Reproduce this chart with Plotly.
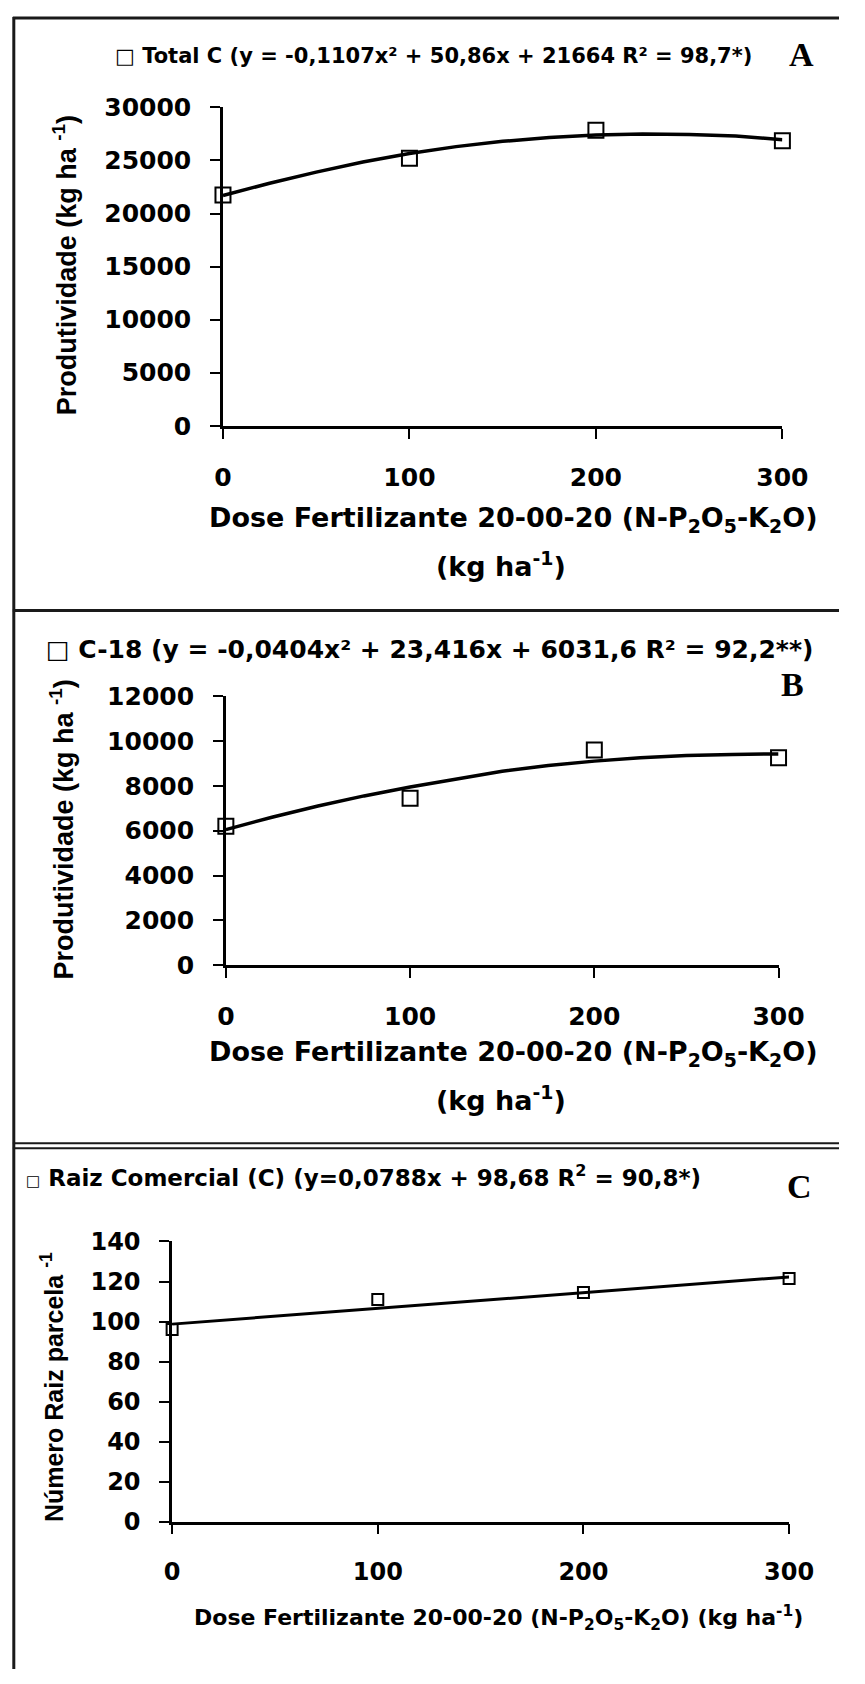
import plotly.graph_objects as go

W, H = 865, 1684

# ---------------- data ----------------
dose = [0, 100, 200, 300]
total_c = [21750, 25200, 27850, 26850]
c18 = [6200, 7450, 9600, 9250]
raiz = [96, 111, 114.5, 121.5]

dose_fit = [0, 25, 50, 75, 100, 125, 150, 175, 200, 225, 250, 275, 300]
total_c_fit = [21700, 22850, 23900, 24850, 25650, 26300, 26800, 27150, 27400, 27500, 27450, 27300, 26950]
c18_fit = [6050, 6600, 7100, 7550, 7950, 8300, 8650, 8900, 9100, 9250, 9350, 9400, 9420]
raiz_fit_x = [0, 300]
raiz_fit = [98.7, 122.3]

x_ticks = [0, 100, 200, 300]
x_ticktext = ["0", "100", "200", "300"]
yA_ticks = [0, 5000, 10000, 15000, 20000, 25000, 30000]
yA_ticktext = ["0", "5000", "10000", "15000", "20000", "25000", "30000"]
yB_ticks = [0, 2000, 4000, 6000, 8000, 10000, 12000]
yB_ticktext = ["0", "2000", "4000", "6000", "8000", "10000", "12000"]
yC_ticks = [0, 20, 40, 60, 80, 100, 120, 140]
yC_ticktext = ["0", "20", "40", "60", "80", "100", "120", "140"]

title_A = "□ Total C (y = -0,1107x² + 50,86x + 21664 R² = 98,7*)"
title_B = "□ C-18 (y = -0,0404x² + 23,416x + 6031,6 R² = 92,2**)"
title_C = "<span style='font-size:15px'>□</span> Raiz Comercial (C) (y=0,0788x + 98,68 R<sup>2</sup> = 90,8*)"
ytitle_AB = "Produtividade (kg ha <sup>-1</sup>)"
ytitle_C = "Número Raiz parcela <sup>-1</sup>"
xtitle_1 = "Dose Fertilizante 20-00-20 (N-P<sub>2</sub>O<sub>5</sub>-K<sub>2</sub>O)"
xtitle_2 = "(kg ha<sup>-1</sup>)"
xtitle_C = "Dose Fertilizante 20-00-20 (N-P<sub>2</sub>O<sub>5</sub>-K<sub>2</sub>O) (kg ha<sup>-1</sup>)"


def fx(x):
    return x / W


def fy(y):
    return 1 - y / H


BOLD = "DejaVu Sans"

fig = go.Figure()

panels = [
    ("x", "y", total_c, dose_fit, total_c_fit, 15, 3.5),
    ("x2", "y2", c18, dose_fit, c18_fit, 15, 3.5),
    ("x3", "y3", raiz, raiz_fit_x, raiz_fit, 11, 3),
]
for xa, ya, obs, fxv, fyv, msize, lw in panels:
    fig.add_trace(go.Scatter(x=fxv, y=fyv, mode="lines", xaxis=xa, yaxis=ya,
                             line=dict(color="black", width=lw), cliponaxis=False,
                             showlegend=False, hoverinfo="skip"))
    fig.add_trace(go.Scatter(x=dose, y=obs, mode="markers", xaxis=xa, yaxis=ya,
                             marker=dict(symbol="square-open", size=msize, color="black",
                                         line=dict(width=2, color="black")),
                             cliponaxis=False, showlegend=False))


def axis(domain, rng, tickvals, ticktext, size, standoff, anchor):
    return dict(domain=domain, range=rng, tickvals=tickvals, ticktext=ticktext,
                ticks="outside", ticklen=10, tickwidth=2, tickcolor="black",
                showline=True, linewidth=2.5, linecolor="black", showgrid=False,
                zeroline=False, anchor=anchor, fixedrange=True,
                tickfont=dict(family=BOLD, size=size, color="black", weight="bold"),
                ticklabelstandoff=standoff)


boxA = (223, 806, 95, 419)
boxB = (226, 802, 694, 968)
boxC = (170, 813, 1249, 1534)

layout_axes = {}
for i, (box, yt, ytt, ymax, fs) in enumerate([
        (boxA, yA_ticks, yA_ticktext, 30000, 25),
        (boxB, yB_ticks, yB_ticktext, 12000, 25),
        (boxC, yC_ticks, yC_ticktext, 140, 24)]):
    sfx = "" if i == 0 else str(i + 1)
    x0, x1, yt0, yb0 = box
    layout_axes["xaxis" + sfx] = axis([fx(x0), fx(x1)], [0, 300], x_ticks, x_ticktext, fs, 17, "y" + sfx)
    layout_axes["yaxis" + sfx] = axis([fy(yb0), fy(yt0)], [0, ymax], yt, ytt, fs, 14, "x" + sfx)

annotations = []


def ann(text, x, y, size, family=BOLD, xanchor="center", angle=0, weight="bold"):
    annotations.append(dict(text=text, x=fx(x), y=fy(y), xref="paper", yref="paper",
                            xanchor=xanchor, yanchor="middle", showarrow=False,
                            textangle=angle,
                            font=dict(family=family, size=size, color="black", weight=weight)))


ann(title_A, 108, 43, 21, xanchor="left")
ann(title_B, 36, 647, 25, xanchor="left")
ann(title_C, 16, 1182, 23, xanchor="left")
ann("A", 826, 41, 34, family="Liberation Serif")
ann("B", 817, 682, 34, family="Liberation Serif")
ann("C", 824, 1193, 34, family="Liberation Serif")
ann(ytitle_AB, 58, 256, 27, family="Liberation Sans", angle=-90)
ann(ytitle_AB, 55, 830, 27, family="Liberation Sans", angle=-90)
ann(ytitle_C, 45, 1397, 25, family="Liberation Sans", angle=-90)
ann(xtitle_1, 526, 514, 27)
ann(xtitle_2, 513, 560, 27)
ann(xtitle_1, 526, 1058, 27)
ann(xtitle_2, 513, 1104, 27)
ann(xtitle_C, 510, 1632, 22)

shapes = []


def hline(y, x0, x1, w):
    shapes.append(dict(type="line", xref="paper", yref="paper", x0=fx(x0), x1=fx(x1),
                       y0=fy(y), y1=fy(y), line=dict(color="#1a1a1a", width=w)))


def vline(x, y0, y1, w):
    shapes.append(dict(type="line", xref="paper", yref="paper", x0=fx(x), x1=fx(x),
                       y0=fy(y0), y1=fy(y1), line=dict(color="#1a1a1a", width=w)))


hline(4, 4, W, 3)
hline(607, 4, W, 3)
hline(1149, 4, W, 2)
hline(1154, 4, W, 2)
vline(5, 3, H, 3)

fig.update_layout(
    width=W, height=H, autosize=False,
    margin=dict(l=0, r=0, t=0, b=0),
    paper_bgcolor="white", plot_bgcolor="white",
    showlegend=False,
    annotations=annotations, shapes=shapes,
    **layout_axes,
)

fig.write_html("out.html", config={"displayModeBar": False, "responsive": False},
               post_script="});document.body.style.margin='0';document.body.style.overflow='hidden';(function(){")
